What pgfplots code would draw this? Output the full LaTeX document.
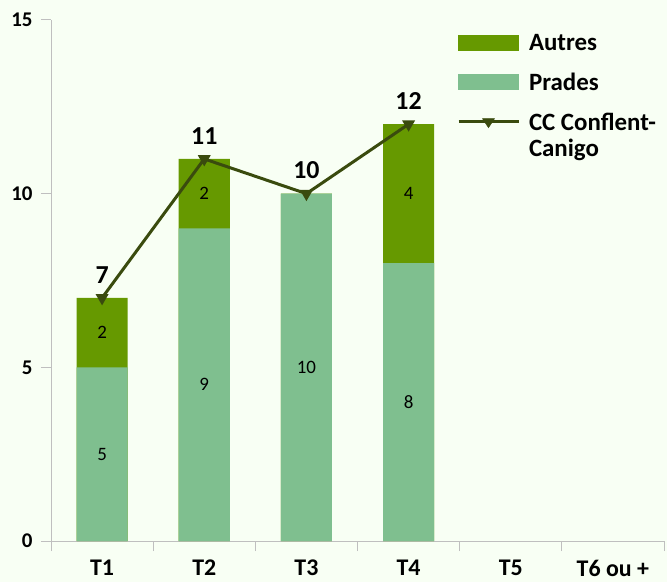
\documentclass[border=0pt]{standalone}
\usepackage{pgfplots}
\pgfplotsset{compat=1.18}
\usepackage{fontspec}
\setmainfont{Carlito}
\definecolor{bg}{HTML}{F8FFF4}
\definecolor{autres}{HTML}{669900}
\definecolor{prades}{HTML}{7FBF8F}
\definecolor{ccline}{HTML}{3A4B0E}
\definecolor{axisgray}{HTML}{BFBFBF}
\begin{document}
\begin{tikzpicture}
\fill[bg] (-51bp,-41bp) rectangle (616bp,541bp);
\begin{axis}[
  at={(0,0)}, anchor=south west,
  scale only axis, width=613bp, height=521bp,
  xmin=-0.5, xmax=5.5, ymin=0, ymax=15,
  axis x line=bottom, axis y line=left,
  axis line style={axisgray, line width=1bp, -},
  xtick={0,...,5}, xticklabels={T1,T2,T3,T4,T5,T6 ou +},
  minor xtick={-0.5,0.5,...,5.5},
  ytick={0,5,10,15}, yticklabels={0,5,10,15},
  tick align=outside,
  major tick length=10bp, minor tick length=10bp,
  major x tick style={draw=none},
  minor x tick style={axisgray, line width=1bp},
  y tick style={axisgray, line width=1bp},
  /pgf/number format/assume math mode=true,
  xticklabel style={font=\bfseries\fontsize{24}{28}\selectfont, anchor=north, yshift=-5.5bp},
  yticklabel style={font=\bfseries\fontsize{21}{25}\selectfont, xshift=-5bp},
  legend style={at={(0.662,0.977)}, anchor=north west, draw=none, fill=none,
    inner sep=0pt, font=\bfseries\fontsize{25}{26}\selectfont,
    row sep=17bp, column sep=7bp,
    cells={anchor=base west, inner sep=0pt}},
  legend cell align=left,
]
\addlegendimage{legend image code/.code={\fill[autres] (0bp,-7bp) rectangle (60bp,8bp);}}
\addlegendentry{Autres}
\addlegendimage{legend image code/.code={\fill[prades] (0bp,-7bp) rectangle (60bp,8bp);}}
\addlegendentry{Prades}
\addlegendimage{legend image code/.code={\draw[ccline, line width=3bp] (0bp,0.5bp) -- (60bp,0.5bp); \fill[ccline] (24bp,3.5bp) -- (36bp,3.5bp) -- (30bp,-5.5bp) -- cycle;}}
\addlegendentry{\vtop{\hbox{CC Conflent-}\hbox{Canigo}}}

\addplot[ybar, bar width=0.5, bar shift=0pt, fill=autres, draw=none, forget plot]
  coordinates {(0,7) (1,11) (2,10) (3,12)};
\addplot[ybar, bar width=0.5, bar shift=0pt, fill=prades, draw=none, forget plot]
  coordinates {(0,5) (1,9) (2,10) (3,8)};
\addplot[draw=none, mark=none, nodes near coords, point meta=explicit symbolic,
  nodes near coords style={anchor=center, inner sep=0pt, black, font=\fontsize{19}{21}\selectfont},
  forget plot] table[meta=lab] {
x y lab
0 2.5 5
1 4.5 9
2 5 10
3 4 8
0 6 2
1 10 2
3 10 4
};
\addplot[ccline, line width=3bp, mark=triangle*, mark size=4.5bp,
  mark options={rotate=180, solid},
  nodes near coords, point meta=y,
  nodes near coords style={font=\bfseries\fontsize{26}{30}\selectfont, black, anchor=south, inner sep=0pt, yshift=13bp},
  forget plot]
  coordinates {(0,7) (1,11) (2,10) (3,12)};
\end{axis}
\pgfresetboundingbox
\path (-51bp,-41bp) rectangle (616bp,541bp);
\end{tikzpicture}
\end{document}
